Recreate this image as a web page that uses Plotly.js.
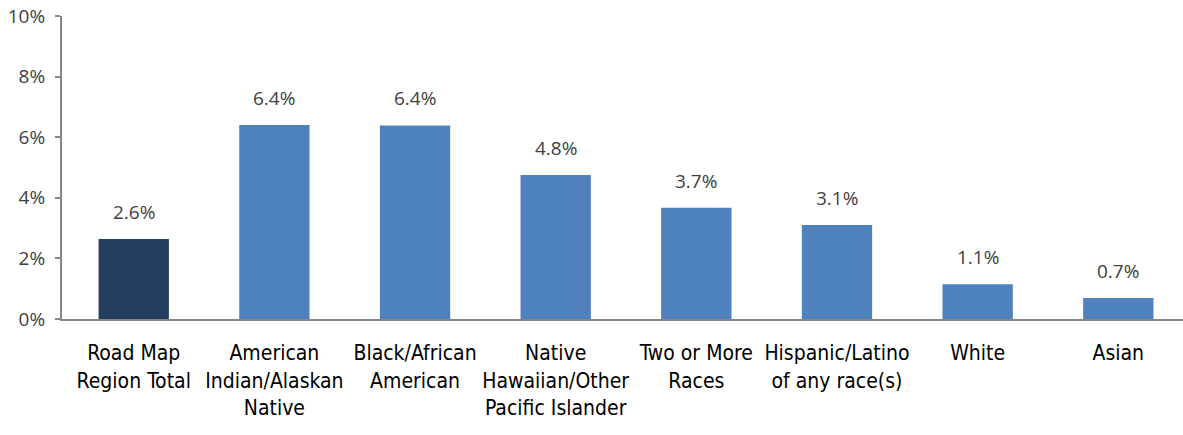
<!DOCTYPE html>
<html>
<head>
<meta charset="utf-8">
<script src="https://cdn.plot.ly/plotly-3.0.1.min.js"></script>
<style>html,body{margin:0;padding:0;background:#fff;}#chart{width:1183px;height:435px;}</style>
</head>
<body>
<div id="chart"></div>
<script>
const categories = [
  "Road Map<br>Region Total",
  "American<br>Indian/Alaskan<br>Native",
  "Black/African<br>American",
  "Native<br>Hawaiian/Other<br>Pacific Islander",
  "Two or More<br>Races",
  "Hispanic/Latino<br>of any race(s)",
  "White",
  "Asian"
];
const values = [2.6, 6.4, 6.4, 4.8, 3.7, 3.1, 1.1, 0.7];
const barHeights = [2.64, 6.4, 6.39, 4.75, 3.67, 3.1, 1.15, 0.69];
const tickVals = [0, 2, 4, 6, 8, 10];
const tickText = ["0%", "2%", "4%", "6%", "8%", "10%"];

const colors = categories.map((c, i) => i === 0 ? "#243F60" : "#4F81BD");

const trace = {
  type: "bar",
  x: categories,
  y: barHeights,
  width: 0.5,
  marker: {color: colors, line: {width: 0}},
  hoverinfo: "skip"
};

const annotations = categories.map((c, i) => ({
  x: c, y: barHeights[i], xref: "x", yref: "y",
  text: values[i].toFixed(1) + "%",
  showarrow: false, yanchor: "bottom", yshift: 12,
  font: {family: "Open Sans, sans-serif", size: 19, color: "#404040"}
}));

const layout = {
  width: 1183, height: 435,
  margin: {l: 62, r: 0, t: 16, b: 116},
  paper_bgcolor: "#fff", plot_bgcolor: "#fff",
  showlegend: false,
  xaxis: {
    type: "category",
    range: [-0.51, 7.46],
    showline: true, linecolor: "#868686", linewidth: 2,
    ticks: "", showgrid: false, zeroline: false,
    ticklabelstandoff: 14,
    tickfont: {family: "DejaVu Sans Condensed, DejaVu Sans, sans-serif", size: 21, color: "#000"},
    automargin: false
  },
  yaxis: {
    range: [0, 10],
    tickvals: tickVals, ticktext: tickText,
    showline: true, linecolor: "#868686", linewidth: 2,
    ticks: "outside", ticklen: 5, tickcolor: "#868686", tickwidth: 2,
    ticklabelstandoff: 6,
    showgrid: false, zeroline: false,
    tickfont: {family: "Open Sans, sans-serif", size: 19, color: "#404040"},
    automargin: false
  },
  annotations: annotations
};

Plotly.newPlot("chart", [trace], layout, {staticPlot: true, displayModeBar: false});
</script>
</body>
</html>
